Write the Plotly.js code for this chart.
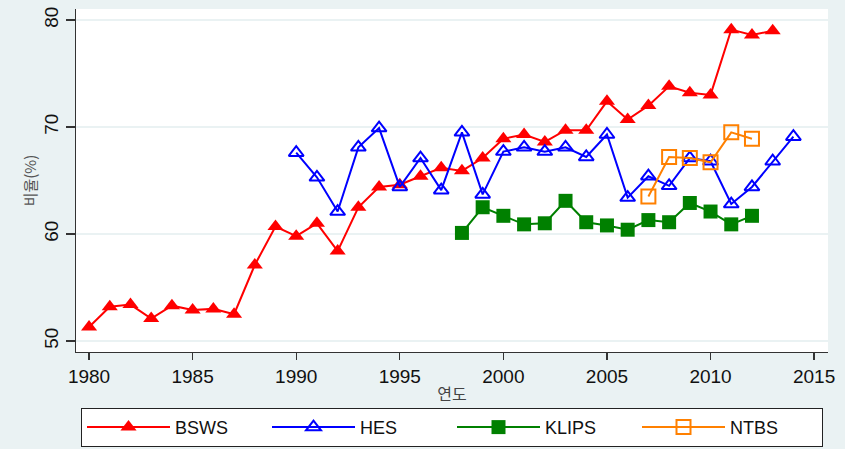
<!DOCTYPE html>
<html>
<head>
<meta charset="utf-8">
<script src="https://cdn.plot.ly/plotly-3.0.1.min.js"></script>
<style>html,body{margin:0;padding:0;background:#eaf2f3;}#chart{width:845px;height:449px;}</style>
</head>
<body>
<div id="chart"></div>
<script>
const bswsYears = [1980,1981,1982,1983,1984,1985,1986,1987,1988,1989,1990,1991,1992,1993,1994,1995,1996,1997,1998,1999,2000,2001,2002,2003,2004,2005,2006,2007,2008,2009,2010,2011,2012,2013];
const bswsValues = [51.3,53.2,53.4,52.1,53.3,52.9,53.0,52.5,57.1,60.7,59.8,61.0,58.4,62.5,64.4,64.6,65.4,66.2,65.9,67.1,68.9,69.3,68.6,69.7,69.7,72.4,70.7,72.0,73.8,73.2,73.0,79.1,78.6,79.0];
const hesYears = [1990,1991,1992,1993,1994,1995,1996,1997,1998,1999,2000,2001,2002,2003,2004,2005,2006,2007,2008,2009,2010,2011,2012,2013,2014];
const hesValues = [67.6,65.3,62.1,68.1,69.9,64.4,67.1,64.1,69.5,63.7,67.7,68.1,67.7,68.1,67.2,69.3,63.4,65.4,64.5,67.1,66.8,62.8,64.4,66.8,69.1];
const klipsYears = [1998,1999,2000,2001,2002,2003,2004,2005,2006,2007,2008,2009,2010,2011,2012];
const klipsValues = [60.1,62.5,61.7,60.9,61.0,63.1,61.1,60.8,60.4,61.3,61.1,62.9,62.1,60.9,61.7];
const ntbsYears = [2007,2008,2009,2010,2011,2012];
const ntbsValues = [63.5,67.2,67.1,66.7,69.5,68.9];
const seriesNames = ['BSWS','HES','KLIPS','NTBS'];
const xTicks = [1980,1985,1990,1995,2000,2005,2010,2015];
const yTicks = [50,60,70,80];

const traces = [
  {x: bswsYears, y: bswsValues, name: seriesNames[0], type: 'scatter', mode: 'lines+markers',
   line: {color: '#ff0000', width: 2}, marker: {symbol: 'triangle-up', size: 14, color: '#ff0000'}},
  {x: hesYears, y: hesValues, name: seriesNames[1], type: 'scatter', mode: 'lines+markers',
   line: {color: '#0000ff', width: 2}, marker: {symbol: 'triangle-up-open', size: 13, color: '#0000ff', line: {width: 2, color: '#0000ff'}}},
  {x: klipsYears, y: klipsValues, name: seriesNames[2], type: 'scatter', mode: 'lines+markers',
   line: {color: '#008000', width: 2}, marker: {symbol: 'square', size: 14, color: '#008000'}},
  {x: ntbsYears, y: ntbsValues, name: seriesNames[3], type: 'scatter', mode: 'lines+markers',
   line: {color: '#ff8000', width: 2}, marker: {symbol: 'square-open', size: 14, color: '#ff8000', line: {width: 2, color: '#ff8000'}}}
];

const layout = {
  width: 845, height: 449,
  paper_bgcolor: '#eaf2f3', plot_bgcolor: '#ffffff',
  margin: {l: 76, r: 17, t: 9, b: 97, pad: 0, autoexpand: false},
  font: {family: 'Liberation Sans, Arial, sans-serif', size: 18, color: '#111'},
  showlegend: true,
  xaxis: {
    range: [1979.37, 2015.67], tickvals: xTicks, ticktext: xTicks.map(String),
    showgrid: false, zeroline: false, showline: true, linecolor: '#333', linewidth: 1.3,
    ticks: 'outside', ticklen: 7, tickwidth: 1.3, tickcolor: '#333',
    tickfont: {size: 19, color: '#111'},
    title: {text: '연도', font: {family: 'Noto Sans CJK KR, sans-serif', size: 16, color: '#444'}, standoff: 2}
  },
  yaxis: {
    range: [48.97, 81.03], tickvals: yTicks, ticktext: yTicks.map(String), tickangle: -90,
    showgrid: true, gridcolor: '#eaf2f3', gridwidth: 1.5, zeroline: false,
    showline: true, linecolor: '#333', linewidth: 1.3,
    ticks: 'outside', ticklen: 9, tickwidth: 1.3, tickcolor: '#333',
    tickfont: {size: 19, color: '#111'},
    title: {text: '비율(%)', font: {family: 'Noto Sans CJK KR, sans-serif', size: 15, color: '#555'}, standoff: 0}
  },
  legend: {
    orientation: 'h', x: 0.5, xanchor: 'center', y: -0.163, yanchor: 'top',
    xref: 'paper', yref: 'paper',
    bgcolor: '#ffffff', bordercolor: '#222', borderwidth: 1,
    font: {size: 18, color: '#111'},
    itemwidth: 83, entrywidth: 87, entrywidthmode: 'pixels'
  }
};

Plotly.newPlot('chart', traces, layout, {displayModeBar: false, staticPlot: true});
</script>
</body>
</html>
